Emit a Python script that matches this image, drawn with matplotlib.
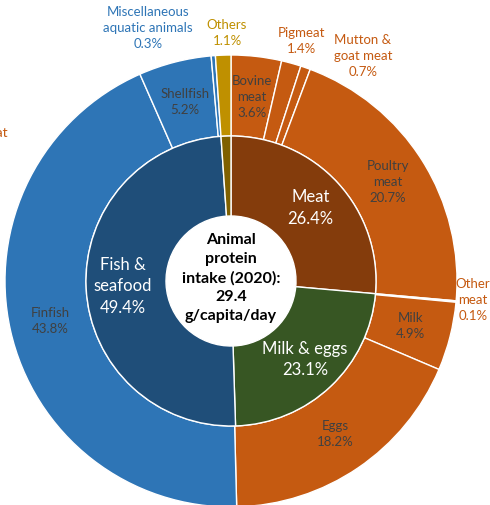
import numpy as np
import matplotlib
matplotlib.use("Agg")
import matplotlib.pyplot as plt

plt.rcParams['font.family'] = ['Lato', 'DejaVu Sans']

# ---- data ----
inner_labels = ["Meat", "Milk & eggs", "Fish &\nseafood", "Others"]
inner_values = [26.4, 23.1, 49.4, 1.1]
inner_colors = ["#843C0C", "#375623", "#1F4E79", "#7F6000"]

outer_labels = ["Bovine\nmeat", "Pigmeat", "Mutton &\ngoat meat", "Poultry\nmeat", "Other\nmeat",
                "Milk", "Eggs", "Finfish", "Shellfish", "Miscellaneous\naquatic animals", "Others"]
outer_values = [3.6, 1.4, 0.7, 20.7, 0.1, 4.9, 18.2, 43.8, 5.2, 0.3, 1.1]
outer_colors = ["#C55A11"] * 7 + ["#2E75B6"] * 3 + ["#BF9000"]
outer_inside = [True, False, False, True, False, True, True, True, True, False, False]
outer_text_colors = ["#404040", "#C55A11", "#C55A11", "#404040", "#C55A11",
                     "#404040", "#404040", "#404040", "#404040", "#2E75B6", "#BF9000"]

center_text = "Animal\nprotein\nintake (2020):\n29.4\ng/capita/day"

W, H = 490, 505
fig = plt.figure(figsize=(W / 100, H / 100), dpi=100)
ax = fig.add_axes([0, 0, 1, 1])

cx, cy = 231, H - 281
R_out = 226
R_in = 145
R_hole = 65

ax.pie(outer_values, radius=R_out, center=(cx, cy), colors=outer_colors, startangle=90,
       counterclock=False, wedgeprops=dict(width=R_out - R_in, edgecolor='white', linewidth=1.0),
       frame=True)
ax.pie(inner_values, radius=R_in, center=(cx, cy), colors=inner_colors, startangle=90,
       counterclock=False, wedgeprops=dict(width=R_in - R_hole, edgecolor='white', linewidth=1.0),
       frame=True)
ax.set_xlim(0, W)
ax.set_ylim(0, H)
ax.set_aspect('equal')
ax.axis('off')

def mid_angle(values, i):
    cum = sum(values[:i]) + values[i] / 2
    return np.deg2rad(90 - cum / sum(values) * 360)

# outer inside labels
for i, (lab, v) in enumerate(zip(outer_labels, outer_values)):
    txt = f"{lab}\n{v:.1f}%"
    if outer_inside[i]:
        a = mid_angle(outer_values, i)
        r = 185
        ax.text(cx + r * np.cos(a), cy + r * np.sin(a), txt, ha='center', va='center',
                fontsize=9.5, color=outer_text_colors[i], linespacing=1.4)

# outside labels (pixel positions from top-left)
outside_pos = {1: (301, 41), 2: (363, 56), 4: (473, 300), 9: (148, 28), 10: (227, 33)}
for i, (px, py) in outside_pos.items():
    txt = f"{outer_labels[i]}\n{outer_values[i]:.1f}%"
    ax.text(px, H - py, txt, ha='center', va='center', fontsize=9.5,
            color=outer_text_colors[i], linespacing=1.4)

# cut-off label at the left edge (only its end is visible in the reference)
ax.text(8, H - 133, "meat", ha='right', va='center', fontsize=10, color="#C55A11")

# inner labels
for i, (lab, v) in enumerate(zip(inner_labels, inner_values)):
    if lab == "Others":
        continue
    a = mid_angle(inner_values, i)
    r = 108
    ax.text(cx + r * np.cos(a), cy + r * np.sin(a), f"{lab}\n{v:.1f}%", ha='center', va='center',
            fontsize=12, color='white', linespacing=1.4)

ax.text(cx, cy + 3, center_text, ha='center', va='center', fontsize=11.5, fontweight='bold',
        color='black', linespacing=1.45)

fig.savefig("out.png", dpi=100)
